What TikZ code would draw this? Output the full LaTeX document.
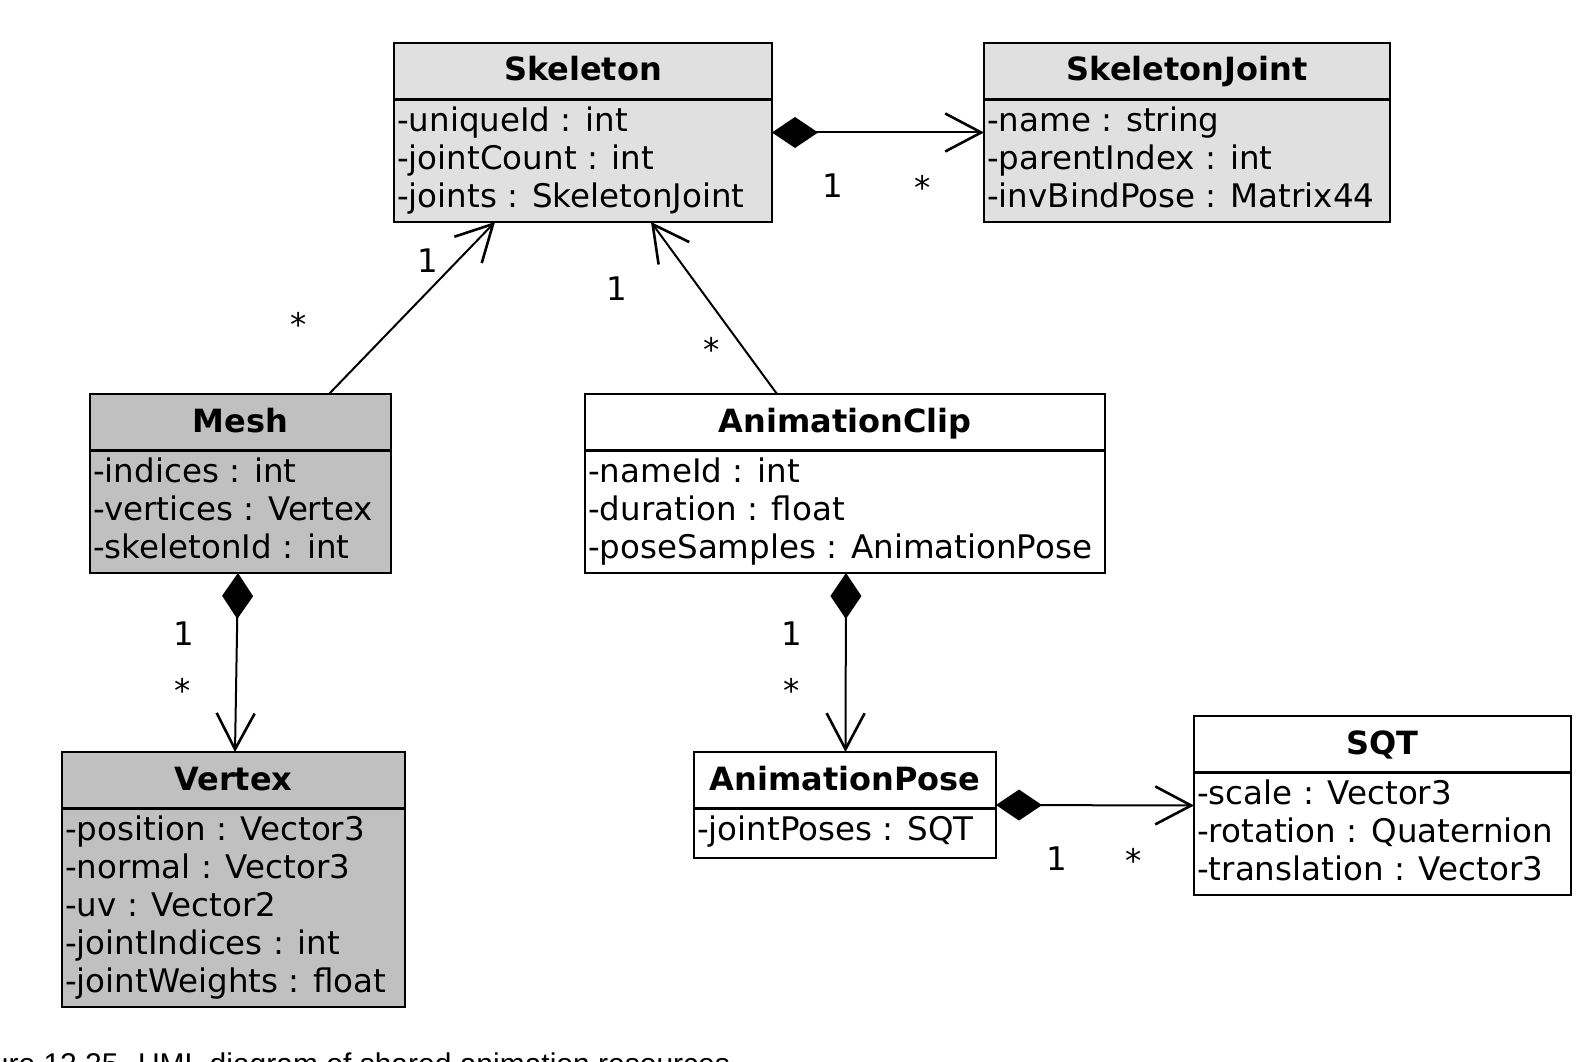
\documentclass[tikz,border=0pt]{standalone}
\usepackage{fontspec}
\setmainfont{DejaVu Sans}
\newfontfamily\capfont{Liberation Sans}
\usetikzlibrary{arrows.meta}
\definecolor{lightfill}{HTML}{E0E0E0}
\definecolor{darkfill}{HTML}{C0C0C0}
\begin{document}
\begin{tikzpicture}[x=1pt,y=-1pt,
  umlbox/.style={draw, line width=2.8pt, inner sep=0pt, outer sep=0pt, anchor=north west},
  divline/.style={line width=2.8pt},
  ctitle/.style={anchor=base, inner sep=0pt, font=\fontsize{32}{38}\selectfont\bfseries},
  attr/.style={anchor=base west, inner sep=0pt, font=\fontsize{32.5}{38}\selectfont},
  mult/.style={anchor=base, inner sep=0pt, font=\fontsize{32.5}{38}\selectfont},
  conn/.style={line width=2pt},
  comp/.style={conn, {Diamond[length=46pt,width=31pt]}-{Straight Barb[length=36pt,width=38pt,line width=2.6pt]}},
  assoc/.style={conn, -{Straight Barb[length=36pt,width=38pt,line width=2.6pt]}},
]
\useasboundingbox (0,0) rectangle (1596,1062);
\clip (0,0) rectangle (1596,1062);
\fill[white] (0,0) rectangle (1596,1062);

% Skeleton
\node[umlbox, fill=lightfill, minimum width=378pt, minimum height=179pt] (skel) at (394,43) {};
\draw[divline] ([yshift=-56.5pt]skel.north west) -- ([yshift=-56.5pt]skel.north east);
\node[ctitle] at ([yshift=-38pt]skel.north) {Skeleton};
\node[attr] at ([xshift=3pt,yshift=-88.5pt]skel.north west) {-uniqueId : int};
\node[attr] at ([xshift=3pt,yshift=-126.5pt]skel.north west) {-jointCount : int};
\node[attr] at ([xshift=3pt,yshift=-164.5pt]skel.north west) {-joints : SkeletonJoint};

% SkeletonJoint
\node[umlbox, fill=lightfill, minimum width=406pt, minimum height=179pt] (sj) at (984,43) {};
\draw[divline] ([yshift=-56.5pt]sj.north west) -- ([yshift=-56.5pt]sj.north east);
\node[ctitle] at ([yshift=-38pt]sj.north) {SkeletonJoint};
\node[attr] at ([xshift=3pt,yshift=-88.5pt]sj.north west) {-name : string};
\node[attr] at ([xshift=3pt,yshift=-126.5pt]sj.north west) {-parentIndex : int};
\node[attr] at ([xshift=3pt,yshift=-164.5pt]sj.north west) {-invBindPose : Matrix44};

% Mesh
\node[umlbox, fill=darkfill, minimum width=301pt, minimum height=179pt] (mesh) at (90,394) {};
\draw[divline] ([yshift=-56.5pt]mesh.north west) -- ([yshift=-56.5pt]mesh.north east);
\node[ctitle] at ([yshift=-38pt]mesh.north) {Mesh};
\node[attr] at ([xshift=3pt,yshift=-88.5pt]mesh.north west) {-indices : int};
\node[attr] at ([xshift=3pt,yshift=-126.5pt]mesh.north west) {-vertices : Vertex};
\node[attr] at ([xshift=3pt,yshift=-164.5pt]mesh.north west) {-skeletonId : int};

% AnimationClip
\node[umlbox, fill=white, minimum width=520pt, minimum height=179pt] (clip) at (585,394) {};
\draw[divline] ([yshift=-56.5pt]clip.north west) -- ([yshift=-56.5pt]clip.north east);
\node[ctitle] at ([yshift=-38pt]clip.north) {AnimationClip};
\node[attr] at ([xshift=3pt,yshift=-88.5pt]clip.north west) {-nameId : int};
\node[attr] at ([xshift=3pt,yshift=-126.5pt]clip.north west) {-duration : float};
\node[attr] at ([xshift=3pt,yshift=-164.5pt]clip.north west) {-poseSamples : AnimationPose};

% Vertex
\node[umlbox, fill=darkfill, minimum width=343pt, minimum height=255pt] (vert) at (62,752) {};
\draw[divline] ([yshift=-56.5pt]vert.north west) -- ([yshift=-56.5pt]vert.north east);
\node[ctitle] at ([yshift=-38pt]vert.north) {Vertex};
\node[attr] at ([xshift=3pt,yshift=-88.5pt]vert.north west) {-position : Vector3};
\node[attr] at ([xshift=3pt,yshift=-126.5pt]vert.north west) {-normal : Vector3};
\node[attr] at ([xshift=3pt,yshift=-164.5pt]vert.north west) {-uv : Vector2};
\node[attr] at ([xshift=3pt,yshift=-202.5pt]vert.north west) {-jointIndices : int};
\node[attr] at ([xshift=3pt,yshift=-240.5pt]vert.north west) {-jointWeights : float};

% AnimationPose
\node[umlbox, fill=white, minimum width=302pt, minimum height=106pt] (pose) at (694,752) {};
\draw[divline] ([yshift=-56.5pt]pose.north west) -- ([yshift=-56.5pt]pose.north east);
\node[ctitle] at ([yshift=-38pt]pose.north) {AnimationPose};
\node[attr] at ([xshift=3pt,yshift=-88.5pt]pose.north west) {-jointPoses : SQT};

% SQT
\node[umlbox, fill=white, minimum width=377pt, minimum height=179pt] (sqt) at (1194,716) {};
\draw[divline] ([yshift=-56.5pt]sqt.north west) -- ([yshift=-56.5pt]sqt.north east);
\node[ctitle] at ([yshift=-38pt]sqt.north) {SQT};
\node[attr] at ([xshift=3pt,yshift=-88.5pt]sqt.north west) {-scale : Vector3};
\node[attr] at ([xshift=3pt,yshift=-126.5pt]sqt.north west) {-rotation : Quaternion};
\node[attr] at ([xshift=3pt,yshift=-164.5pt]sqt.north west) {-translation : Vector3};

% connectors
\draw[comp] (skel.east) -- (sj.west);
\draw[assoc] ([xshift=239pt]mesh.north west) -- ([xshift=101pt]skel.south west);
\draw[assoc] ([xshift=192pt]clip.north west) -- ([xshift=257pt]skel.south west);
\draw[comp] ([xshift=148pt]mesh.south west) -- ([xshift=173pt]vert.north west);
\draw[comp] ([xshift=261pt]clip.south west) -- ([xshift=151.5pt]pose.north west);
\draw[comp] (pose.east) -- (sqt.west);

% multiplicities
\node[mult] (m1a) at (832.5,197) {1};
\node[mult] (m1b) at (922.7,199) {*};
\node[mult] (m2a) at (428,272) {1};
\node[mult] (m2b) at (299,336) {*};
\node[mult] (m3a) at (617,300) {1};
\node[mult] (m3b) at (712,361) {*};
\node[mult] (m4a) at (184.3,645) {1};
\node[mult] (m4b) at (182.7,702) {*};
\node[mult] (m5a) at (791.7,645) {1};
\node[mult] (m5b) at (791.7,702) {*};
\node[mult] (m6a) at (1056.7,870) {1};
\node[mult] (m6b) at (1133.3,872) {*};

% cut-off caption
\node[anchor=base west, inner sep=0pt, font=\capfont\fontsize{30}{34}\selectfont] (cap) at (-50,1074) {Figure 12.25. UML diagram of shared animation resources};
\end{tikzpicture}
\end{document}
